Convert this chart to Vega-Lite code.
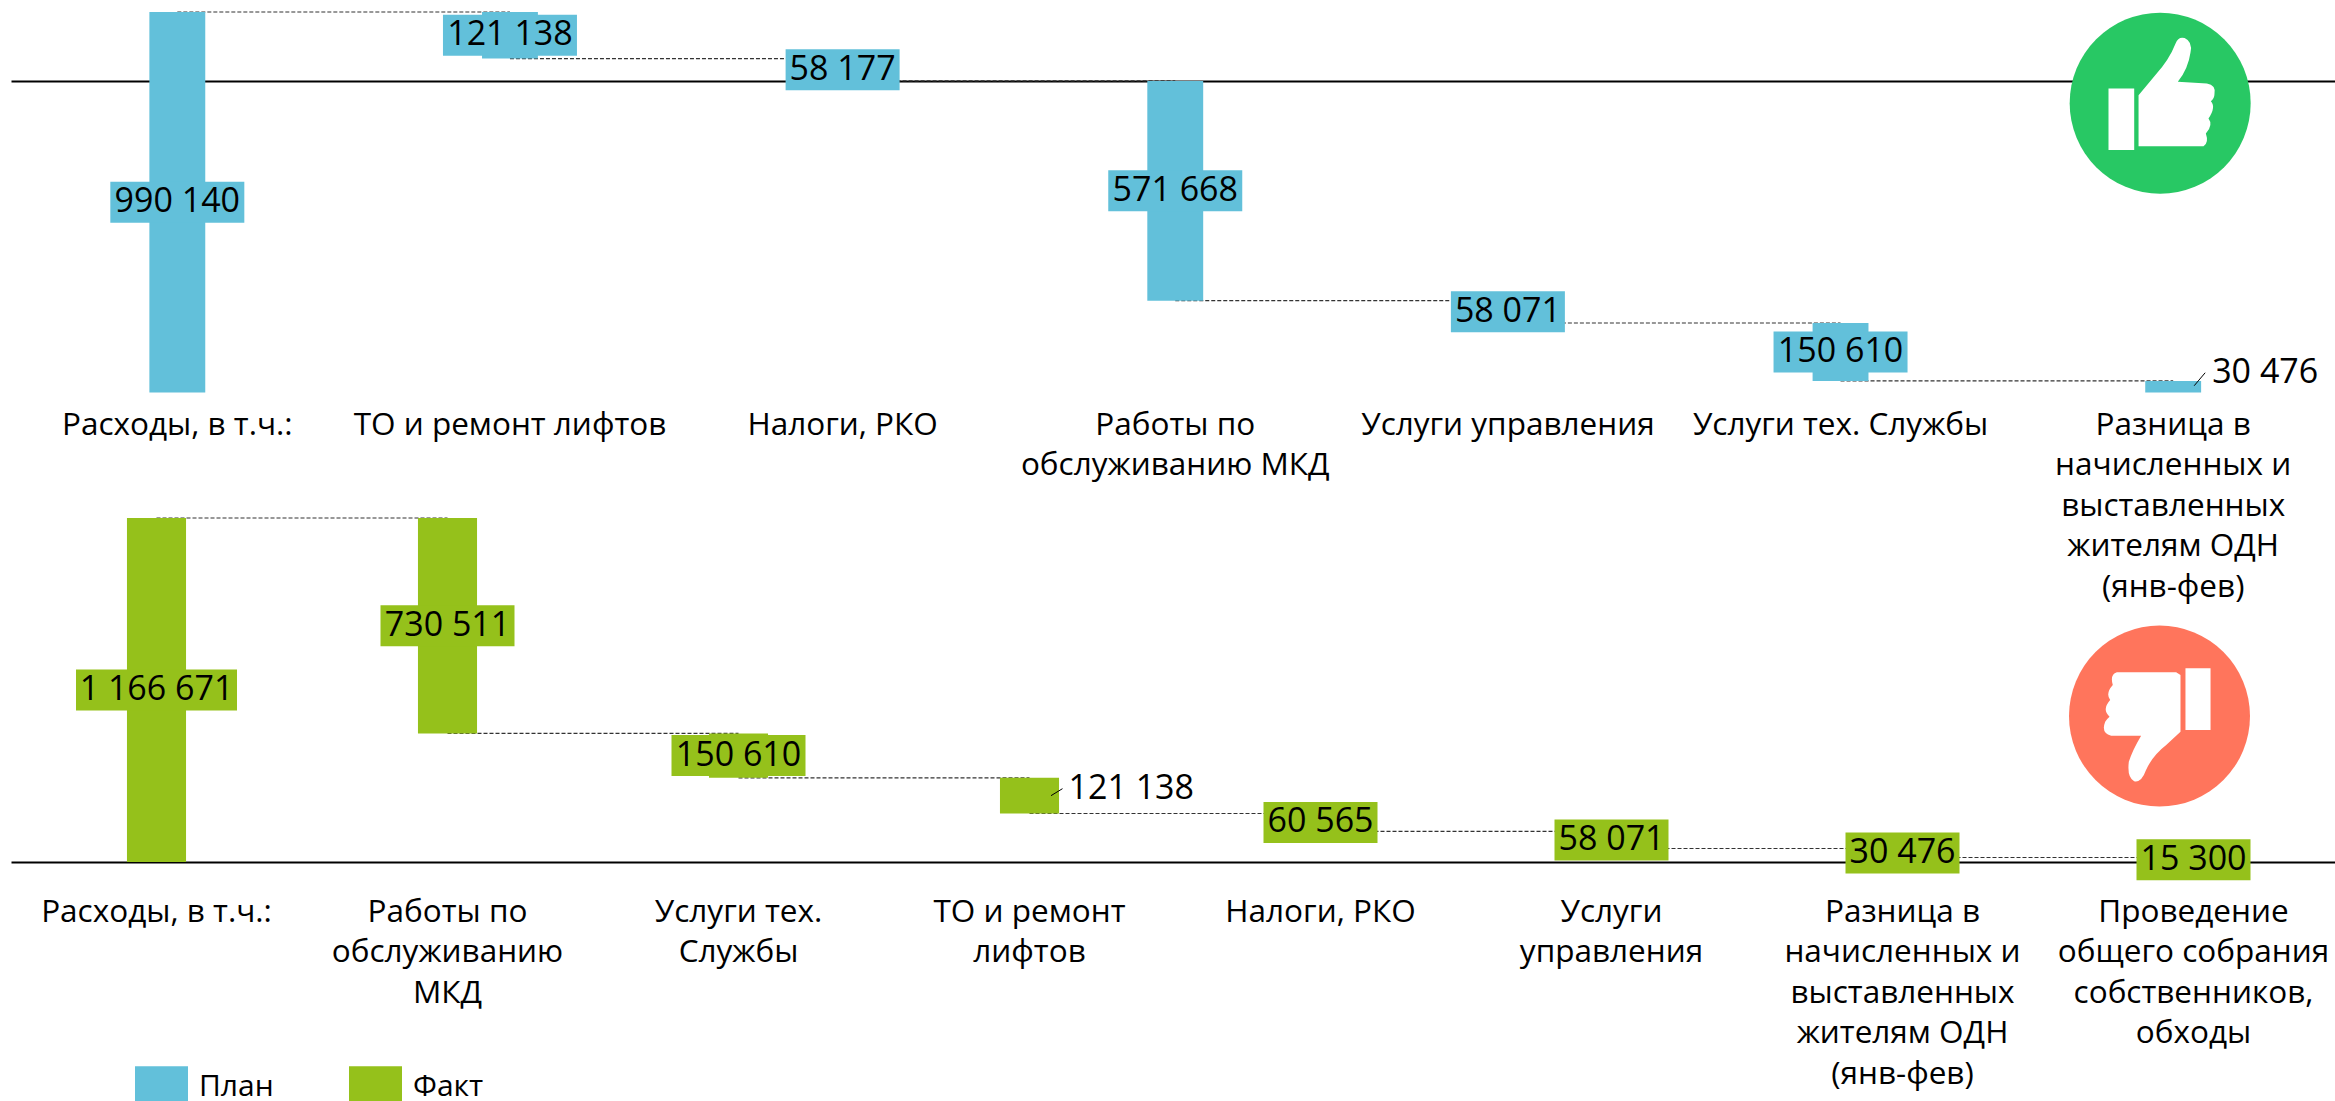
{
"$schema":"https://vega.github.io/schema/vega-lite/v6.json",
"width":2335,"height":1101,"padding":0,"autosize":{"type":"none"},
"background":"white",
"config":{"view":{"stroke":null},"text":{"font":"Open Sans"}},
"datasets":{
"plan":[
{"series":"План","cat":"Расходы, в т.ч.:","next":"ТО и ремонт лифтов","hi":990140,"lo":0,"mid":495070,"level":990140,"value":990140,"label":"990 140","digits":6,"outside":false},
{"series":"План","cat":"ТО и ремонт лифтов","next":"Налоги, РКО","hi":990140,"lo":869002,"mid":929571,"level":869002,"value":121138,"label":"121 138","digits":6,"outside":false},
{"series":"План","cat":"Налоги, РКО","next":"Работы по\nобслуживанию МКД","hi":869002,"lo":810825,"mid":839914,"level":810825,"value":58177,"label":"58 177","digits":5,"outside":false},
{"series":"План","cat":"Работы по\nобслуживанию МКД","next":"Услуги управления","hi":810825,"lo":239157,"mid":524991,"level":239157,"value":571668,"label":"571 668","digits":6,"outside":false},
{"series":"План","cat":"Услуги управления","next":"Услуги тех. Службы","hi":239157,"lo":181086,"mid":210122,"level":181086,"value":58071,"label":"58 071","digits":5,"outside":false},
{"series":"План","cat":"Услуги тех. Службы","next":"Разница в\nначисленных и\nвыставленных\nжителям ОДН\n(янв-фев)","hi":181086,"lo":30476,"mid":105781,"level":30476,"value":150610,"label":"150 610","digits":6,"outside":false},
{"series":"План","cat":"Разница в\nначисленных и\nвыставленных\nжителям ОДН\n(янв-фев)","next":null,"hi":30476,"lo":0,"mid":15238,"level":null,"value":30476,"label":"30 476","digits":5,"outside":true}
],
"fact":[
{"series":"Факт","cat":"Расходы, в т.ч.:","next":"Работы по\nобслуживанию\nМКД","hi":1166671,"lo":0,"mid":583335,"level":1166671,"value":1166671,"label":"1 166 671","digits":7,"outside":false},
{"series":"Факт","cat":"Работы по\nобслуживанию\nМКД","next":"Услуги тех.\nСлужбы","hi":1166671,"lo":436160,"mid":801415,"level":436160,"value":730511,"label":"730 511","digits":6,"outside":false},
{"series":"Факт","cat":"Услуги тех.\nСлужбы","next":"ТО и ремонт\nлифтов","hi":436160,"lo":285550,"mid":360855,"level":285550,"value":150610,"label":"150 610","digits":6,"outside":false},
{"series":"Факт","cat":"ТО и ремонт\nлифтов","next":"Налоги, РКО","hi":285550,"lo":164412,"mid":224981,"level":164412,"value":121138,"label":"121 138","digits":6,"outside":true},
{"series":"Факт","cat":"Налоги, РКО","next":"Услуги\nуправления","hi":164412,"lo":103847,"mid":134130,"level":103847,"value":60565,"label":"60 565","digits":5,"outside":false},
{"series":"Факт","cat":"Услуги\nуправления","next":"Разница в\nначисленных и\nвыставленных\nжителям ОДН\n(янв-фев)","hi":103847,"lo":45776,"mid":74811,"level":45776,"value":58071,"label":"58 071","digits":5,"outside":false},
{"series":"Факт","cat":"Разница в\nначисленных и\nвыставленных\nжителям ОДН\n(янв-фев)","next":"Проведение\nобщего собрания\nсобственников,\nобходы","hi":45776,"lo":15300,"mid":30538,"level":15300,"value":30476,"label":"30 476","digits":5,"outside":false},
{"series":"Факт","cat":"Проведение\nобщего собрания\nсобственников,\nобходы","next":null,"hi":15300,"lo":0,"mid":7650,"level":null,"value":15300,"label":"15 300","digits":5,"outside":false}
],
"planIcon":[{"cat":"Разница в\nначисленных и\nвыставленных\nжителям ОДН\n(янв-фев)","pos":753000,"icon":"Хорошо"}],
"factIcon":[{"cat":"Проведение\nобщего собрания\nсобственников,\nобходы","pos":495000,"icon":"Плохо"}]
},
"layer":[
{
"data":{"name":"plan"},
"encoding":{"x":{"field":"cat","type":"nominal","title":null,
 "scale":{"domain":["Расходы, в т.ч.:","ТО и ремонт лифтов","Налоги, РКО","Работы по\nобслуживанию МКД","Услуги управления","Услуги тех. Службы","Разница в\nначисленных и\nвыставленных\nжителям ОДН\n(янв-фев)"],"range":[11,2339.5],"paddingInner":0.832,"paddingOuter":0.416},
 "axis":{"orient":"bottom","offset":-1020,"labelAngle":0,"labelAlign":"center","labelBaseline":"top","labelPadding":328,"labelFont":"Open Sans","labelFontSize":31.5,"labelLineHeight":40.5,"labelColor":"black","labelLimit":1000,"labelOverlap":false,"labelBound":false,"ticks":false,"grid":false,"domainColor":"black","domainWidth":2,"labelExpr":"split(datum.label,'\\n')"}}},
"layer":[
{"transform":[{"filter":"datum.next != null"}],"mark":{"type":"rule","color":"#333333","strokeWidth":1.2,"strokeDash":[4,2]},
 "encoding":{"x2":{"field":"next"},"y":{"field":"level","type":"quantitative","axis":null,"scale":{"domain":[0,990140],"range":[392.6,12],"nice":false,"padding":0}}}},
{"mark":{"type":"bar"},
 "encoding":{"y":{"field":"hi","type":"quantitative","axis":null,"scale":{"domain":[0,990140],"range":[392.6,12],"nice":false,"padding":0}},"y2":{"field":"lo"},
  "color":{"field":"series","type":"nominal","scale":{"domain":["План","Факт"],"range":["#62C0DA","#95C11B"]},
   "legend":{"orient":"none","legendX":135,"legendY":1060,"direction":"horizontal","title":null,"symbolType":"M-1,-0.77H1V0.77H-1Z","symbolSize":2809,"symbolStrokeWidth":0,"symbolOpacity":1,"labelFont":"Open Sans","labelFontSize":30,"labelColor":"black","labelOffset":11,"columnPadding":75}}}},
{"transform":[{"filter":"!datum.outside && datum.digits==6"}],"mark":{"type":"bar","orient":"horizontal","width":134,"height":41},
 "encoding":{"y":{"field":"mid","type":"quantitative","axis":null,"scale":{"domain":[0,990140],"range":[392.6,12],"nice":false,"padding":0}},"color":{"field":"series","type":"nominal","legend":null}}},
{"transform":[{"filter":"!datum.outside && datum.digits==5"}],"mark":{"type":"bar","orient":"horizontal","width":114,"height":41},
 "encoding":{"y":{"field":"mid","type":"quantitative","axis":null,"scale":{"domain":[0,990140],"range":[392.6,12],"nice":false,"padding":0}},"color":{"field":"series","type":"nominal","legend":null}}},
{"transform":[{"filter":"!datum.outside"}],"mark":{"type":"text","font":"Open Sans","fontSize":34,"color":"black","align":"center","baseline":"middle"},
 "encoding":{"y":{"field":"mid","type":"quantitative","axis":null,"scale":{"domain":[0,990140],"range":[392.6,12],"nice":false,"padding":0}},"text":{"field":"label"}}},
{"transform":[{"filter":"datum.outside"}],"mark":{"type":"rule","color":"black","strokeWidth":1,"xOffset":21,"x2Offset":32,"yOffset":-1,"y2Offset":-14},
 "encoding":{"x2":{"field":"cat"},"y":{"field":"mid","type":"quantitative","axis":null,"scale":{"domain":[0,990140],"range":[392.6,12],"nice":false,"padding":0}},"y2":{"field":"mid"}}},
{"transform":[{"filter":"datum.outside"}],"mark":{"type":"text","font":"Open Sans","fontSize":34,"color":"black","align":"left","baseline":"middle","dx":39,"dy":-14},
 "encoding":{"y":{"field":"mid","type":"quantitative","axis":null,"scale":{"domain":[0,990140],"range":[392.6,12],"nice":false,"padding":0}},"text":{"field":"label"}}},
{"data":{"name":"planIcon"},"mark":{"type":"point","filled":true,"opacity":1,"shape":"circle","size":32761,"color":"#28C864","xOffset":-13},
 "encoding":{"y":{"field":"pos","type":"quantitative","axis":null,"scale":{"domain":[0,990140],"range":[392.6,12],"nice":false,"padding":0}}}},
{"data":{"name":"planIcon"},"mark":{"type":"point","filled":true,"opacity":1,"size":32761,"color":"white","xOffset":-13,"shape":"M-0.571,-0.162H-0.287V0.519H-0.571ZM-0.239,0.475L-0.239,-0.088L-0.055,-0.309Q0.10,-0.48 0.17,-0.66Q0.20,-0.74 0.27,-0.72Q0.36,-0.68 0.335,-0.56Q0.31,-0.38 0.195,-0.236L0.516,-0.217Q0.62,-0.20 0.60,-0.10Q0.60,-0.05 0.56,-0.022Q0.62,0.04 0.534,0.169Q0.59,0.24 0.505,0.335Q0.54,0.44 0.479,0.475Z"},
 "encoding":{"y":{"field":"pos","type":"quantitative","axis":null,"scale":{"domain":[0,990140],"range":[392.6,12],"nice":false,"padding":0}}}}
]
},
{
"data":{"name":"fact"},
"encoding":{"x":{"field":"cat","type":"nominal","title":null,
 "scale":{"domain":["Расходы, в т.ч.:","Работы по\nобслуживанию\nМКД","Услуги тех.\nСлужбы","ТО и ремонт\nлифтов","Налоги, РКО","Услуги\nуправления","Разница в\nначисленных и\nвыставленных\nжителям ОДН\n(янв-фев)","Проведение\nобщего собрания\nсобственников,\nобходы"],"range":[11,2339],"paddingInner":0.797,"paddingOuter":0.3985},
 "axis":{"orient":"bottom","offset":-239,"labelAngle":0,"labelAlign":"center","labelBaseline":"top","labelPadding":34,"labelFont":"Open Sans","labelFontSize":31.5,"labelLineHeight":40.5,"labelColor":"black","labelLimit":1000,"labelOverlap":false,"labelBound":false,"ticks":false,"grid":false,"domainColor":"black","domainWidth":2,"labelExpr":"split(datum.label,'\\n')"}}},
"layer":[
{"transform":[{"filter":"datum.next != null"}],"mark":{"type":"rule","color":"#333333","strokeWidth":1.2,"strokeDash":[4,2]},
 "encoding":{"x2":{"field":"next"},"y":{"field":"level","type":"quantitative","axis":null,"scale":{"domain":[0,1166671],"range":[862,518],"nice":false,"padding":0}}}},
{"mark":{"type":"bar"},
 "encoding":{"y":{"field":"hi","type":"quantitative","axis":null,"scale":{"domain":[0,1166671],"range":[862,518],"nice":false,"padding":0}},"y2":{"field":"lo"},
  "color":{"field":"series","type":"nominal","scale":{"domain":["План","Факт"],"range":["#62C0DA","#95C11B"]},"legend":null}}},
{"transform":[{"filter":"!datum.outside && datum.digits==7"}],"mark":{"type":"bar","orient":"horizontal","width":161,"height":41},
 "encoding":{"y":{"field":"mid","type":"quantitative","axis":null,"scale":{"domain":[0,1166671],"range":[862,518],"nice":false,"padding":0}},"color":{"field":"series","type":"nominal","legend":null}}},
{"transform":[{"filter":"!datum.outside && datum.digits==6"}],"mark":{"type":"bar","orient":"horizontal","width":134,"height":41},
 "encoding":{"y":{"field":"mid","type":"quantitative","axis":null,"scale":{"domain":[0,1166671],"range":[862,518],"nice":false,"padding":0}},"color":{"field":"series","type":"nominal","legend":null}}},
{"transform":[{"filter":"!datum.outside && datum.digits==5"}],"mark":{"type":"bar","orient":"horizontal","width":114,"height":41},
 "encoding":{"y":{"field":"mid","type":"quantitative","axis":null,"scale":{"domain":[0,1166671],"range":[862,518],"nice":false,"padding":0}},"color":{"field":"series","type":"nominal","legend":null}}},
{"transform":[{"filter":"!datum.outside"}],"mark":{"type":"text","font":"Open Sans","fontSize":34,"color":"black","align":"center","baseline":"middle"},
 "encoding":{"y":{"field":"mid","type":"quantitative","axis":null,"scale":{"domain":[0,1166671],"range":[862,518],"nice":false,"padding":0}},"text":{"field":"label"}}},
{"transform":[{"filter":"datum.outside"}],"mark":{"type":"rule","color":"black","strokeWidth":1,"xOffset":21.5,"x2Offset":33,"yOffset":0,"y2Offset":-7},
 "encoding":{"x2":{"field":"cat"},"y":{"field":"mid","type":"quantitative","axis":null,"scale":{"domain":[0,1166671],"range":[862,518],"nice":false,"padding":0}},"y2":{"field":"mid"}}},
{"transform":[{"filter":"datum.outside"}],"mark":{"type":"text","font":"Open Sans","fontSize":34,"color":"black","align":"left","baseline":"middle","dx":39,"dy":-7},
 "encoding":{"y":{"field":"mid","type":"quantitative","axis":null,"scale":{"domain":[0,1166671],"range":[862,518],"nice":false,"padding":0}},"text":{"field":"label"}}},
{"data":{"name":"factIcon"},"mark":{"type":"point","filled":true,"opacity":1,"shape":"circle","size":32761,"color":"#FF755C","xOffset":-34},
 "encoding":{"y":{"field":"pos","type":"quantitative","axis":null,"scale":{"domain":[0,1166671],"range":[862,518],"nice":false,"padding":0}}}},
{"data":{"name":"factIcon"},"mark":{"type":"point","filled":true,"opacity":1,"size":32761,"color":"white","xOffset":-34,"shape":"M0.287,-0.527H0.564V0.155H0.287ZM0.232,-0.453L0.232,0.173L0.074,0.320Q-0.08,0.44 -0.15,0.60Q-0.20,0.74 -0.28,0.72Q-0.36,0.68 -0.339,0.505Q-0.30,0.38 -0.203,0.217L-0.534,0.217Q-0.65,0.19 -0.60,0.063Q-0.58,0.03 -0.552,0.007Q-0.64,-0.07 -0.545,-0.177Q-0.60,-0.25 -0.516,-0.343Q-0.55,-0.46 -0.471,-0.483L0.184,-0.483Z"},
 "encoding":{"y":{"field":"pos","type":"quantitative","axis":null,"scale":{"domain":[0,1166671],"range":[862,518],"nice":false,"padding":0}}}}
]
}
],
"resolve":{"scale":{"x":"independent","y":"independent"},"axis":{"x":"independent","y":"independent"}}
}
